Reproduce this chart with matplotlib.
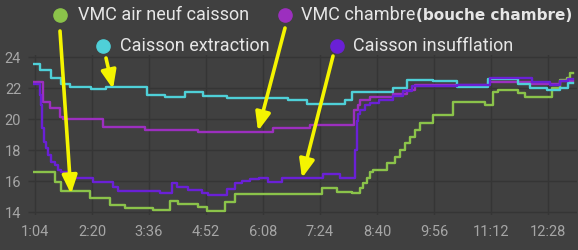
import matplotlib
matplotlib.use("Agg")
import matplotlib.pyplot as plt
from matplotlib.patches import FancyArrowPatch
from matplotlib.lines import Line2D

# ---- data (time in minutes since midnight, temperature in °C) ----
tick_minutes = [64, 140, 216, 292, 368, 444, 520, 596, 672, 748]
tick_labels = ["1:04", "2:20", "3:36", "4:52", "6:08", "7:24", "8:40", "9:56", "11:12", "12:28"]
y_ticks = [14, 16, 18, 20, 22, 24]

extraction_t = [62.7, 70.2, 85.8, 99.1, 110.2, 139, 159, 212.9, 237.3, 264, 288.4, 319.5,
                401.8, 426.2, 477.3, 486.2, 541.7, 559.5, 595, 626, 668, 708.4, 724,
                746.2, 764, 775, 781.5]
extraction_v = [23.53, 23.16, 22.62, 22.24, 22.09, 21.91, 22.09, 21.55, 21.4, 21.72, 21.5, 21.38,
                21.2, 20.98, 21.2, 21.76, 22.02, 22.5, 22.42, 22.05, 22.55, 22.23, 22.02,
                21.87, 22.0, 22.3, 22.3]

chambre_t = [62.7, 74.7, 83.6, 96.9, 101.3, 154.7, 210.6, 281.8, 381.8, 430.6, 489.7, 494.2,
             497.3, 510.6, 541.7, 559.5, 570.6, 668, 726, 764, 781.5]
chambre_v = [22.37, 21.12, 20.7, 20.15, 19.97, 19.5, 19.29, 19.18, 19.44, 19.61, 20.58, 20.9,
             21.23, 21.4, 21.59, 21.87, 22.19, 22.37, 22.25, 22.45, 22.45]

insufflation_t = [62.7, 70.2, 71.6, 73.3, 76, 79.1, 81.3, 85.8, 90.2, 94.7, 99.1, 108, 116.9,
                  141.3, 168, 174.7, 230.6, 246.2, 252.9, 268.4, 286.2, 295, 319.5, 330.6,
                  339.5, 350.6, 362, 375, 392.9, 448.4, 470.6, 490.6, 492.9, 494.5, 497.3,
                  504, 510.6, 522, 541.7, 555, 566, 626, 670.6, 726, 750, 764, 775, 781.5]
insufflation_v = [22.25, 21.55, 20.9, 19.4, 18.54, 18.1, 17.68, 17.25, 17.03, 16.71, 16.6, 16.39, 16.17,
                  15.96, 15.63, 15.35, 15.2, 15.85, 15.63, 15.42, 15.25, 15.08, 15.5, 15.85,
                  16.0, 16.1, 16.17, 15.96, 16.17, 16.45, 16.17, 18.0, 19.9, 20.3, 20.6,
                  20.9, 21.05, 21.2, 21.5, 21.8, 22.1, 22.2, 22.65, 22.4, 22.2, 22.45, 22.6, 22.6]

airneuf_t = [62.7, 90.2, 99.1, 136.9, 163.6, 183.6, 221.7, 244, 255, 281.8, 292.9, 317.3, 330.6,
             446.2, 466.2, 486.2, 497.3, 501.7, 506.2, 510.6, 515, 532.9, 544, 550.6, 557.3,
             564, 570.6, 577.3, 595, 621, 664, 675.1, 681.8, 708.4, 717.3, 752.9, 764, 772.9,
             777.3, 781.5]
airneuf_v = [16.56, 15.96, 15.35, 14.92, 14.45, 14.24, 14.13, 14.71, 14.52, 14.34, 14.06, 14.67, 15.14,
             15.57, 15.31, 15.2, 15.53, 15.85, 16.17, 16.6, 16.71, 17.14, 17.57, 18.0, 18.43,
             18.86, 19.29, 19.72, 20.26, 21.12, 20.9, 21.72, 21.87, 21.66, 21.4, 21.98, 22.52, 22.65,
             22.95, 22.95]

# ---- style ----
W, H = 578, 250
BG = "#404040"
GRID = "#353535"
C_GREEN = "#8bc34a"
C_CYAN = "#4fd0d8"
C_MAG = "#9c2fbf"
C_VIO = "#6a20d6"
YELLOW = "#f4f400"

def fx(px):
    return px / W

def fy(py):
    return 1 - py / H

fig = plt.figure(figsize=(W / 100, H / 100), dpi=100, facecolor=BG)
ax_l, ax_r, ax_t, ax_b = 33, 577, 55, 215
ax = fig.add_axes([fx(ax_l), fy(ax_b), (ax_r - ax_l) / W, (ax_b - ax_t) / H])
ax.set_facecolor(BG)

# pixel->data mapping: x px 35 -> 64 min, 0.75 px/min ; y px 212 -> 14, 15.5 px/unit
ax.set_xlim(64 + (ax_l - 35) / 0.75, 64 + (ax_r - 35) / 0.75)
ax.set_ylim(14 - (ax_b - 212) / 15.5, 14 + (212 - ax_t) / 15.5)

for s in ax.spines.values():
    s.set_visible(False)
ax.set_xticks(tick_minutes)
ax.set_xticklabels(tick_labels)
ax.set_yticks(y_ticks)
ax.grid(True, color=GRID, lw=1.0)
ax.set_axisbelow(True)
ax.tick_params(axis="x", length=0, pad=7, labelsize=10.5, labelcolor="#a6a6a6")
ax.tick_params(axis="y", length=3.5, width=1, color=GRID, pad=5, labelsize=10.5, labelcolor="#a6a6a6")
for lab in ax.get_xticklabels() + ax.get_yticklabels():
    lab.set_family("Roboto")

lw = 1.7
ax.plot(airneuf_t, airneuf_v, drawstyle="steps-post", color=C_GREEN, lw=lw)
ax.plot(chambre_t, chambre_v, drawstyle="steps-post", color=C_MAG, lw=lw)
ax.plot(extraction_t, extraction_v, drawstyle="steps-post", color=C_CYAN, lw=lw)
ax.plot(insufflation_t, insufflation_v, drawstyle="steps-post", color=C_VIO, lw=lw)

# ---- legend (manual, as in reference) ----
TXT = "#e6e6e6"
def dot(px, py, c):
    fig.add_artist(Line2D([fx(px)], [fy(py)], marker="o", ms=9.5, color=c,
                          transform=fig.transFigure, lw=0))

dot(60, 15, C_GREEN)
fig.text(fx(78), fy(15), "VMC air neuf caisson", color=TXT, fontsize=13,
         family="Roboto", va="center")
dot(285, 15, C_MAG)
fig.text(fx(301), fy(15), "VMC chambre", color=TXT, fontsize=13,
         family="Roboto", va="center")
fig.text(fx(416), fy(15), "(bouche chambre)", color=TXT, fontsize=11,
         family="DejaVu Sans", weight="bold", va="center")
dot(103, 46, C_CYAN)
fig.text(fx(120), fy(46), "Caisson extraction", color=TXT, fontsize=13,
         family="Roboto", va="center")
dot(337, 46, C_VIO)
fig.text(fx(353), fy(46), "Caisson insufflation", color=TXT, fontsize=13,
         family="Roboto", va="center")

# ---- yellow arrows ----
def arrow(x0, y0, x1, y1):
    a = FancyArrowPatch((fx(x0), fy(y0)), (fx(x1), fy(y1)), transform=fig.transFigure,
                        arrowstyle="-|>,head_length=1.1,head_width=0.45", mutation_scale=10,
                        color=YELLOW, lw=2.6, shrinkA=0, shrinkB=0)
    fig.add_artist(a)

arrow(60, 31, 71, 194)
arrow(106, 58, 113, 89)
arrow(285, 28, 258, 131)
arrow(333, 56, 302, 178)

fig.savefig("out.png", dpi=100, facecolor=BG)
